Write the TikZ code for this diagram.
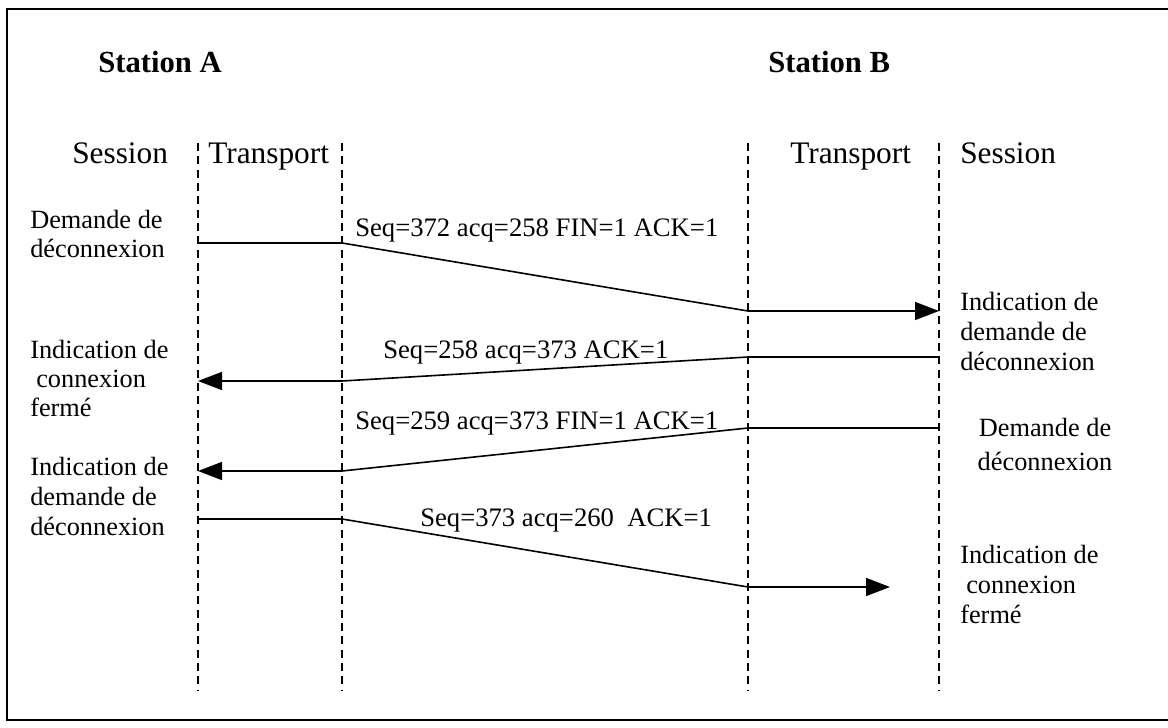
\documentclass[tikz,border=0pt]{standalone}
\usepackage{fontspec}
\setmainfont{Liberation Serif}
\usetikzlibrary{arrows.meta}
\begin{document}
\begin{tikzpicture}[x=0.75pt,y=-0.75pt,
  frame/.style={line width=1pt},
  life/.style={dash pattern=on 6pt off 4pt, line width=0.8pt},
  msg/.style={line width=1.2pt},
  tipped/.style={-{Triangle[length=18pt,width=13.5pt]}},
  head/.style={font=\fontsize{23.5}{27}\selectfont, inner sep=0pt, anchor=base west},
  station/.style={font=\fontsize{23}{26}\selectfont\bfseries, inner sep=0pt, anchor=base west},
  lab/.style={font=\fontsize{19.75}{23}\selectfont, inner sep=0pt, anchor=base west},
  labc/.style={font=\fontsize{19.75}{23}\selectfont, inner sep=0pt, anchor=base},
  seq/.style={font=\fontsize{20}{24}\selectfont, inner sep=0pt, anchor=base west}]
\useasboundingbox (0,0) rectangle (1168,728);
\coordinate (fr1) at (1168,9);
\coordinate (fr2) at (7,9);
\coordinate (fr3) at (7,720);
\coordinate (fr4) at (1168,720);
\draw[frame] (fr1) -- (fr2) -- (fr3) -- (fr4);

% headers
\node[station] (stA) at (98,72) {Station A};
\node[station] (stB) at (768,72) {Station B};
\node[head] (sesA) at (72,163) {Session};
\node[head] (trA) at (208,163) {Transport};
\node[head] (trB) at (790,163) {Transport};
\node[head] (sesB) at (960,163) {Session};

% lifelines
\foreach \n/\x in {a/198,b/342,c/748,d/939}{
  \coordinate (\n top) at (\x,143);
  \coordinate (\n bot) at (\x,690);
}
\foreach \n in {a,b,c,d}{ \draw[life] (\n top) -- (\n bot); }

% message points
\coordinate (m1a) at (198,243); \coordinate (m1b) at (342,243);
\coordinate (m1c) at (748,311); \coordinate (m1d) at (939,311);
\coordinate (m2a) at (939,357); \coordinate (m2b) at (748,357);
\coordinate (m2c) at (342,381); \coordinate (m2d) at (198,381);
\coordinate (m3a) at (939,428); \coordinate (m3b) at (748,428);
\coordinate (m3c) at (342,471); \coordinate (m3d) at (198,471);
\coordinate (m4a) at (198,519); \coordinate (m4b) at (342,519);
\coordinate (m4c) at (748,587); \coordinate (m4d) at (890,587);

\draw[msg,tipped] (m1a) -- (m1b) -- (m1c) -- (m1d);
\draw[msg,tipped] (m2a) -- (m2b) -- (m2c) -- (m2d);
\draw[msg,tipped] (m3a) -- (m3b) -- (m3c) -- (m3d);
\draw[msg,tipped] (m4a) -- (m4b) -- (m4c) -- (m4d);

% sequence labels
\node[seq] (s1) at (355,236) {Seq=372 acq=258 FIN=1 ACK=1};
\node[seq] (s2) at (383,358) {Seq=258 acq=373 ACK=1};
\node[seq] (s3) at (355,429) {Seq=259 acq=373 FIN=1 ACK=1};
\node[seq] (s4) at (420,526) {Seq=373 acq=260\ \ ACK=1};

% left labels
\node[lab] (dA1) at (30,228) {Demande de};
\node[lab] (dA2) at (30,257) {déconnexion};
\node[lab] (iA1) at (30,358) {Indication de};
\node[lab] (iA2) at (36,387) {connexion};
\node[lab] (iA3) at (30,416) {fermé};
\node[lab] (jA1) at (30,475) {Indication de};
\node[lab] (jA2) at (30,505) {demande de};
\node[lab] (jA3) at (30,535) {déconnexion};

% right labels
\node[lab] (iB1) at (960,310) {Indication de};
\node[lab] (iB2) at (960,340) {demande de};
\node[lab] (iB3) at (960,370) {déconnexion};
\node[labc] (dB1) at (1045,436) {Demande de};
\node[labc] (dB2) at (1045,470) {déconnexion};
\node[lab] (kB1) at (960,563) {Indication de};
\node[lab] (kB2) at (966,593) {connexion};
\node[lab] (kB3) at (960,623) {fermé};
\end{tikzpicture}
\end{document}
